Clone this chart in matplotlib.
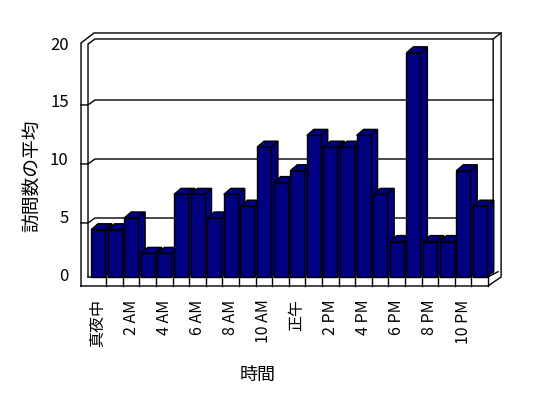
import matplotlib.pyplot as plt
from matplotlib.patches import Polygon, Rectangle

plt.rcParams['font.family'] = ['Noto Sans CJK JP', 'DejaVu Sans']

# data
hours = ['真夜中', '1 AM', '2 AM', '3 AM', '4 AM', '5 AM', '6 AM', '7 AM',
         '8 AM', '9 AM', '10 AM', '11 AM', '正午', '1 PM', '2 PM', '3 PM',
         '4 PM', '5 PM', '6 PM', '7 PM', '8 PM', '9 PM', '10 PM', '11 PM']
visits = [4, 4, 5, 2, 2, 7, 7, 5, 7, 6, 11, 8, 9, 12, 11, 11, 12, 7, 3, 19, 3, 3, 9, 6]
y_ticks = [0, 5, 10, 15, 20]

bar_col = '#000080'
dx, dy = 0.42, 0.51      # fake 3d depth in data units
bar_off, bar_w = 0.09, 0.84

W, H = 548, 398
fig = plt.figure(figsize=(W / 100, H / 100), dpi=100)
ax = fig.add_axes([89.5 / W, (H - 277) / H, 398.5 / W, (277 - 41) / H])
ax.set_xlim(0, len(hours))
ax.set_ylim(0, 20)
ax.axis('off')

def line(pts, z=1):
    xs, ys = zip(*pts)
    ax.plot(xs, ys, color='black', lw=1, clip_on=False, zorder=z,
            solid_joinstyle='miter')

# walls / floor
line([(-0.51, -0.76), (-0.51, 19.83), (0.27, 20.68), (24.79, 20.68),
      (24.79, 0.0), (24.0, -0.76), (-0.51, -0.76)])
line([(-0.09, 0), (-0.09, 19.75), (0.33, 20.17), (24.31, 20.17), (24.31, 0.3)])
line([(24.31, 20.17), (24.79, 20.68)])
line([(-0.09, 0), (24.0, 0), (24.6, 0.45)])
for k in range(1, len(hours) + 1):
    line([(k, -0.76), (k, 0)])
for v in y_ticks[1:-1]:
    line([(-0.51, v - 0.42), (-0.09, v - 0.42), (0.33, v), (24.31, v)])

# bars
for i, v in enumerate(visits):
    x0 = i + bar_off
    x1 = x0 + bar_w
    z = 3 + i
    side = Polygon([(x1, 0), (x1 + dx, dy), (x1 + dx, v + dy), (x1, v)],
                   closed=True, fc=bar_col, ec='black', lw=1, zorder=z,
                   clip_on=False)
    top = Polygon([(x0, v), (x0 + dx, v + dy), (x1 + dx, v + dy), (x1, v)],
                  closed=True, fc=bar_col, ec='black', lw=1, zorder=z,
                  clip_on=False)
    front = Rectangle((x0, 0), bar_w, v, fc=bar_col, ec='black', lw=1,
                      zorder=z, clip_on=False)
    ax.add_patch(side)
    ax.add_patch(top)
    ax.add_patch(front)

# tick labels
for v in y_ticks:
    ax.text(-1.25, v * 0.98 + 0.05, str(v), ha='right', va='center',
            fontsize=12)
for i in range(0, len(hours), 2):
    ax.text(i + 0.5, -1.9, hours[i], rotation=90, ha='center', va='top',
            fontsize=11.5)

fig.text(33 / W, 1 - 176 / H, '訪問数の平均', rotation=90, ha='center',
         va='center', fontsize=13.5)
fig.text(258 / W, 1 - 375 / H, '時間', ha='center', va='center', fontsize=13)

fig.savefig('out.png', dpi=100)
